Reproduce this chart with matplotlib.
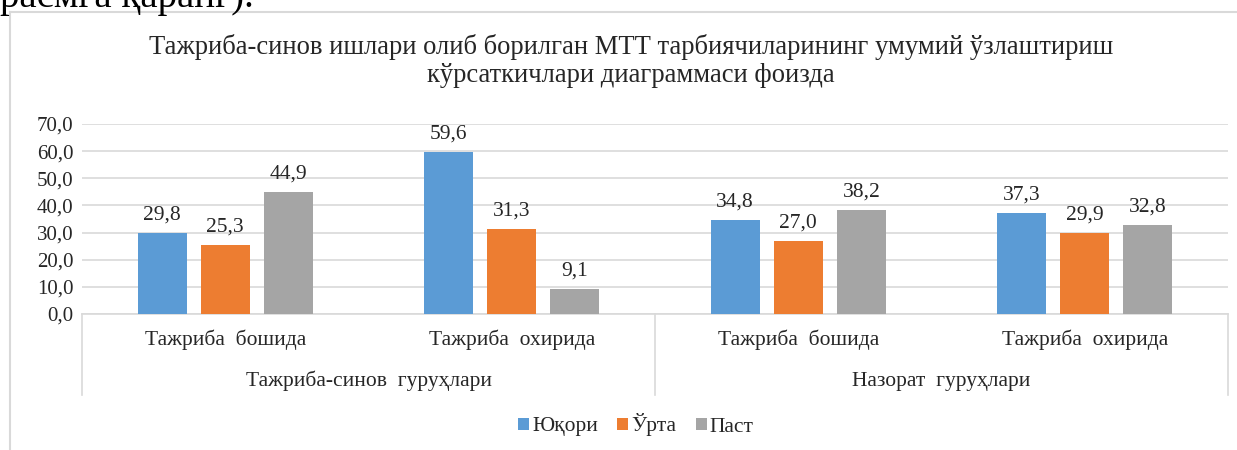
import numpy as np
import matplotlib
matplotlib.use('Agg')
import matplotlib.pyplot as plt
from matplotlib.lines import Line2D

# data
categories = ['Тажриба  бошида', 'Тажриба  охирида', 'Тажриба  бошида', 'Тажриба  охирида']
groups = ['Тажриба-синов  гуруҳлари', 'Назорат  гуруҳлари']
series = ['Юқори', 'Ўрта', 'Паст']
yuqori = [29.8, 59.6, 34.8, 37.3]
orta = [25.3, 31.3, 27.0, 29.9]
past = [44.9, 9.1, 38.2, 32.8]
yticks = [0, 10, 20, 30, 40, 50, 60, 70]
title = ('Тажриба-синов ишлари олиб борилган МТТ тарбиячиларининг умумий ўзлаштириш\n'
         'кўрсаткичлари диаграммаси фоизда')

colors = ['#5B9BD5', '#ED7D31', '#A5A5A5']
plt.rcParams['font.family'] = ['Liberation Serif', 'DejaVu Serif']

W, H = 1237, 450
fig = plt.figure(figsize=(W / 100, H / 100), dpi=100)
ax = fig.add_axes([82 / W, 1 - 314 / H, (1228 - 82) / W, (314 - 124) / H])

x = np.arange(len(categories))
bw = 0.171
step = 0.22
for i, (vals, c) in enumerate(zip([yuqori, orta, past], colors)):
    bars = ax.bar(x + (i - 1) * step, vals, width=bw, color=c, label=series[i], zorder=3)
    for b, v in zip(bars, vals):
        ax.annotate(f'{v:.1f}'.replace('.', ','), (b.get_x() + b.get_width() / 2, v),
                    xytext=(0, 6), textcoords='offset points', ha='center', va='bottom',
                    fontsize=15.5, color='#262626')

ax.set_xlim(-0.5, 3.5)
ax.set_ylim(0, 70)
ax.set_yticks(yticks)
ax.set_yticklabels([f'{t:.1f}'.replace('.', ',') for t in yticks], fontsize=15, color='#262626')
ax.tick_params(axis='y', length=0, pad=6)
ax.set_xticks([])
ax.grid(axis='y', color='#D9D9D9', lw=1.2, zorder=0)
for s in ['top', 'right', 'left']:
    ax.spines[s].set_visible(False)
ax.spines['bottom'].set_color('#D9D9D9')
ax.spines['bottom'].set_linewidth(1.2)

# category axis
tr = ax.get_xaxis_transform()
for xv in [-0.5, 1.5, 3.5]:
    ax.plot([xv, xv], [0, -0.425], transform=tr, clip_on=False, color='#D9D9D9', lw=1.2)
for xi, cat in zip(x, categories):
    ax.text(xi, -0.137, cat, transform=tr, ha='center', va='center', fontsize=15.5, color='#262626')
for gi, g in enumerate(groups):
    ax.text(0.5 + 2 * gi, -0.353, g, transform=tr, ha='center', va='center', fontsize=15.5, color='#262626')

fig.text(631 / W, 1 - 61 / H, title, ha='center', va='center', fontsize=19.2,
         color='#262626', linespacing=1.2)

leg = fig.legend(loc='center', bbox_to_anchor=(636 / W, 1 - 425 / H), ncol=3, frameon=False,
                 fontsize=15.5, handlelength=0.5, handleheight=0.5, handletextpad=0.15,
                 columnspacing=0.9)
for t in leg.get_texts():
    t.set_color('#262626')

# chart frame and text above
fig.add_artist(Line2D([10 / W, 10 / W], [0, 1 - 12 / H], transform=fig.transFigure, color='#D9D9D9', lw=1.5))
fig.add_artist(Line2D([10 / W, 1], [1 - 12 / H, 1 - 12 / H], transform=fig.transFigure, color='#D9D9D9', lw=1.5))
fig.text(0, 1 - 7 / H, 'расмга қаранг).', ha='left', va='baseline', fontsize=28, color='black')

fig.savefig('out.png', dpi=100)
